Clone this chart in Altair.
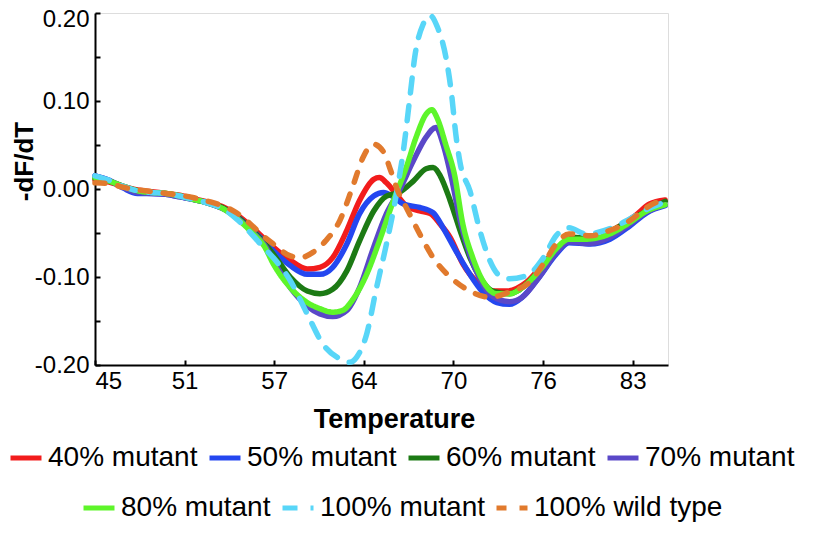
import altair as alt
import pandas as pd

# ---------------- data ----------------
SERIES_A = ["40% mutant", "50% mutant", "60% mutant", "70% mutant"]
COLORS_A = ["#f21c1c", "#2447f0", "#1c7a14", "#5a48c8"]
SERIES_B = ["80% mutant", "100% mutant", "100% wild type"]
COLORS_B = ["#5ef52a", "#58d6f8", "#e17a2d"]

red_T = [45, 46, 47, 48, 49, 50, 51, 52, 53, 54, 55, 56, 57, 57.6, 58.8, 60.0, 60.9, 61.8, 62.8, 63.7,
         64.7, 65.1, 65.6, 66.3, 67.0, 67.95, 68.7, 69.4, 70.1, 71.0, 72.0, 72.9, 74.1, 75.5, 76.9, 78.1,
         79.0, 80.4, 81.8, 83.2, 84.2, 85.3]
red_V = [0.010, 0.008, 0.003, -0.001, -0.003, -0.005, -0.007, -0.011, -0.015, -0.020, -0.029, -0.042, -0.057,
         -0.066, -0.081, -0.091, -0.089, -0.078, -0.047, -0.013, 0.011, 0.013, 0.007, -0.006, -0.019, -0.025,
         -0.028, -0.040, -0.055, -0.085, -0.106, -0.116, -0.116, -0.106, -0.081, -0.061, -0.057, -0.057,
         -0.045, -0.030, -0.017, -0.0125]

blue_T = [45, 46, 47, 48, 49, 50, 51, 52, 53, 54, 55, 56, 57, 57.6, 58.8, 60.0, 60.9, 61.8, 62.8, 63.7,
          64.7, 65.4, 66.0, 66.8, 67.95, 68.9, 69.6, 70.5, 71.5, 72.4, 73.4, 74.3, 75.2, 76.4, 77.6, 78.5,
          80.0, 81.4, 82.8, 84.0, 85.3]
blue_V = [0.015, 0.010, 0.001, -0.005, -0.005, -0.006, -0.009, -0.012, -0.016, -0.022, -0.031, -0.045, -0.060,
          -0.070, -0.087, -0.097, -0.097, -0.089, -0.0625, -0.028, -0.008, -0.004, -0.008, -0.017, -0.021,
          -0.027, -0.044, -0.070, -0.097, -0.117, -0.129, -0.131, -0.123, -0.100, -0.074, -0.061, -0.0625,
          -0.057, -0.042, -0.027, -0.019]

dgreen_T = [45, 46, 47, 48, 49, 50, 51, 52, 53, 54, 55, 56, 57, 57.6, 58.8, 60.0, 60.9, 61.8, 62.8, 63.7,
            64.7, 65.6, 66.5, 67.5, 68.4, 68.9, 69.4, 70.1, 70.8, 71.5, 72.2, 73.1, 74.3, 75.5, 76.9, 78.1,
            79.0, 80.4, 81.8, 83.2, 85.3]
dgreen_V = [0.012, 0.009, 0.003, -0.002, -0.004, -0.005, -0.008, -0.012, -0.016, -0.021, -0.031, -0.045,
            -0.062, -0.074, -0.100, -0.116, -0.119, -0.114, -0.093, -0.059, -0.025, -0.008, -0.004, 0.009,
            0.023, 0.0245, 0.015, -0.013, -0.047, -0.078, -0.100, -0.116, -0.119, -0.108, -0.083, -0.061,
            -0.055, -0.057, -0.045, -0.032, -0.014]

purple_T = [45, 46, 47, 48, 49, 50, 51, 52, 53, 54, 55, 56, 57, 57.6, 58.8, 60.0, 60.9, 61.8, 62.8, 63.7,
            64.7, 65.6, 66.5, 67.5, 68.4, 69.1, 69.6, 70.2, 70.8, 71.5, 72.2, 73.1, 74.3, 75.2, 76.4, 77.6,
            78.5, 80.0, 81.4, 82.8, 84.0, 85.3]
purple_V = [0.015, 0.010, 0.002, -0.004, -0.005, -0.006, -0.009, -0.012, -0.016, -0.022, -0.032, -0.047,
            -0.064, -0.081, -0.112, -0.133, -0.142, -0.145, -0.138, -0.112, -0.066, -0.028, -0.002, 0.032,
            0.059, 0.070, 0.051, 0.012, -0.035, -0.075, -0.102, -0.122, -0.128, -0.123, -0.100, -0.072,
            -0.060, -0.062, -0.055, -0.040, -0.026, -0.018]

lgreen_T = [45, 46, 47, 48, 49, 50, 51, 52, 53, 54, 55, 56, 57, 57.6, 58.8, 60.0, 60.9, 61.8, 62.5, 63.25,
            64.2, 65.1, 66.1, 67.0, 67.7, 68.4, 68.8, 69.2, 69.8, 70.4, 71.0, 71.7, 72.4, 73.4, 74.3, 75.2,
            76.6, 77.6, 78.5, 79.7, 81.4, 82.8, 84.0, 85.3]
lgreen_V = [0.013, 0.009, 0.003, -0.002, -0.004, -0.005, -0.008, -0.012, -0.016, -0.022, -0.033, -0.048,
            -0.066, -0.085, -0.112, -0.129, -0.136, -0.140, -0.138, -0.125, -0.097, -0.059, -0.013, 0.0245,
            0.059, 0.085, 0.090, 0.080, 0.050, 0.017, -0.040, -0.078, -0.104, -0.119, -0.119, -0.112, -0.089,
            -0.068, -0.057, -0.057, -0.051, -0.038, -0.025, -0.018]

cyan_T = [45, 46, 47, 48, 49, 50, 51, 52, 53, 54, 55, 56, 57, 57.6, 58.8, 60.0, 61.1, 62.3, 63.0, 63.5,
          64.2, 64.9, 65.6, 66.3, 66.8, 67.3, 67.6, 68.2, 68.7, 69.2, 69.8, 70.2, 70.5, 70.8, 71.5, 72.2,
          72.9, 73.6, 74.3, 75.5, 76.7, 77.6, 78.5, 79.7, 81.4, 82.8, 84.0, 85.1]
cyan_V = [0.015, 0.010, 0.003, -0.002, -0.004, -0.005, -0.008, -0.012, -0.016, -0.022, -0.034, -0.050,
          -0.068, -0.078, -0.104, -0.142, -0.176, -0.193, -0.197, -0.191, -0.165, -0.112, -0.0625, -0.006,
          0.044, 0.110, 0.150, 0.1875, 0.197, 0.184, 0.150, 0.108, 0.0625, 0.030, -0.002, -0.047, -0.081,
          -0.0985, -0.102, -0.0985, -0.078, -0.053, -0.044, -0.051, -0.045, -0.034, -0.023, -0.016]

orange_T = [45, 46, 47, 48, 49, 50, 51, 52, 53, 54, 55, 56, 57, 57.6, 58.8, 59.5, 60.4, 61.3, 62.3, 63.2,
            63.95, 64.66, 65.4, 65.9, 66.4, 67.0, 67.95, 68.9, 70.1, 71.5, 72.9, 74.3, 75.7, 76.7, 77.6,
            78.5, 80.0, 81.4, 82.8, 84.0, 85.3]
orange_V = [0.007, 0.006, 0.002, -0.001, -0.003, -0.005, -0.007, -0.010, -0.014, -0.019, -0.027, -0.040,
            -0.055, -0.0625, -0.076, -0.078, -0.072, -0.059, -0.036, 0.002, 0.036, 0.051, 0.042, 0.021,
            -0.002, -0.021, -0.051, -0.078, -0.100, -0.116, -0.123, -0.117, -0.106, -0.085, -0.0625, -0.051,
            -0.053, -0.047, -0.036, -0.021, -0.011]

X_TICKS = [45, 51.3333, 57.6667, 64, 70.3333, 76.6667, 83]
Y_TICKS = [-0.20, -0.15, -0.10, -0.05, 0.0, 0.05, 0.10, 0.15, 0.20]


def rows(name, ts, vs):
    return [{"series": name, "T": t, "V": v} for t, v in zip(ts, vs)]


dfA = pd.DataFrame(rows("40% mutant", red_T, red_V) + rows("50% mutant", blue_T, blue_V)
                   + rows("60% mutant", dgreen_T, dgreen_V) + rows("70% mutant", purple_T, purple_V))
dfB = pd.DataFrame(rows("80% mutant", lgreen_T, lgreen_V) + rows("100% mutant", cyan_T, cyan_V)
                   + rows("100% wild type", orange_T, orange_V))

FONT = "Liberation Sans"
xscale = alt.Scale(domain=[45, 85.5], nice=False, zero=False)
yscale = alt.Scale(domain=[-0.2, 0.2], nice=False, zero=False)

ylabel = ("abs(round(datum.value*100)) % 10 == 0 ? "
          "(datum.value < -0.001 ? '-' : '') + format(abs(datum.value), '.2f') : ''")

x_main = alt.X("T:Q", scale=xscale, axis=alt.Axis(
    values=X_TICKS, labelExpr="floor(datum.value + 0.001)", ticks=False, grid=False,
    domainColor="black", domainWidth=2, labelFont=FONT, labelFontSize=24, labelColor="black",
    labelPadding=4, title="Temperature", titleFont=FONT, titleFontSize=27, titleFontWeight="bold",
    titleColor="black", titleX=299, titleY=54, titleAlign="center", titleBaseline="middle"))
y_main = alt.Y("V:Q", scale=yscale, axis=alt.Axis(
    values=Y_TICKS, labelExpr=ylabel, ticks=False, grid=False, domainColor="black", domainWidth=2,
    labelFont=FONT, labelFontSize=24, labelColor="black", labelPadding=6,
    labelOffset={"condition": {"test": "datum.value > 0.19", "value": 6}, "value": 0},
    title="-dF/dT", titleFont=FONT, titleFontSize=26, titleFontWeight="bold", titleColor="black",
    titleAngle=-90, titleX=-71, titleY=148, titleAlign="center", titleBaseline="middle"))

x_ticks = alt.X("T:Q", scale=xscale, axis=alt.Axis(
    values=X_TICKS, labels=False, domain=False, ticks=True, tickSize=5, tickWidth=2,
    tickColor="black", offset=-5, grid=False, title=None, orient="bottom"))
y_ticks = alt.Y("V:Q", scale=yscale, axis=alt.Axis(
    values=Y_TICKS, labels=False, domain=False, ticks=True, tickSize=5, tickWidth=2,
    tickColor="black", offset=-5, grid=False, title=None, orient="left"))

leg_common = dict(orient="none", direction="horizontal", symbolType="stroke", symbolStrokeWidth=5,
                  symbolSize=961, labelFont=FONT, labelFontSize=28, labelColor="black",
                  labelLimit=400, labelOffset=4, columnPadding=1, padding=0, title=None)

lines_a = alt.Chart(dfA).mark_line(strokeWidth=5.5, strokeCap="round", strokeJoin="round",
                                   interpolate="monotone").encode(
    x=x_main, y=y_main,
    color=alt.Color("series:N", scale=alt.Scale(domain=SERIES_A, range=COLORS_A),
                    legend=alt.Legend(legendX=-87, legendY=427, **leg_common)),
    order=alt.Order("T:Q"),
)

legB = alt.Legend(legendX=-14, legendY=477, **leg_common)
lines_b = alt.Chart(dfB).mark_line(strokeWidth=5.5, strokeCap="round", strokeJoin="round",
                                   interpolate="monotone").encode(
    x=x_ticks, y=y_ticks,
    color=alt.Color("series:N", scale=alt.Scale(domain=SERIES_B, range=COLORS_B), legend=legB),
    strokeDash=alt.StrokeDash("series:N", scale=alt.Scale(domain=SERIES_B,
                                                          range=[[1, 0], [15, 13], [10, 13]]),
                              legend=legB),
    order=alt.Order("T:Q"),
)

chart = (alt.layer(lines_a, lines_b)
         .resolve_scale(color="independent", strokeDash="independent")
         .resolve_axis(x="independent", y="independent")
         .properties(width=573, height=352, autosize=alt.AutoSizeParams(type="none"),
                     padding={"left": 87, "top": 5, "right": 140, "bottom": 171})
         .configure_view(stroke=None)
         .configure(background="white"))

chart.save("out.html", embed_options={"renderer": "svg", "actions": False})
